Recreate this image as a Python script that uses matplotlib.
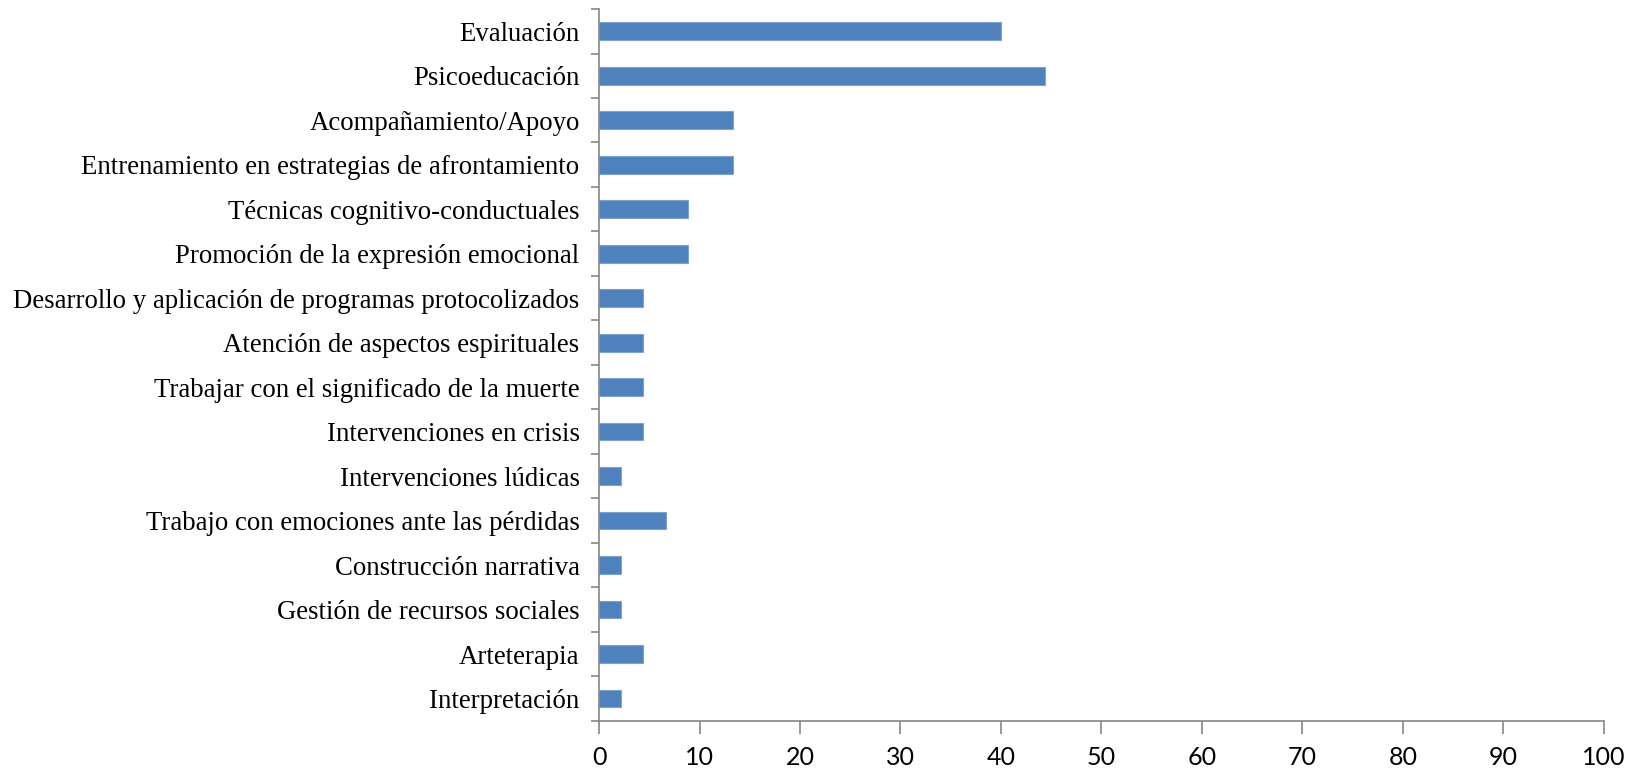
import matplotlib
matplotlib.use("Agg")
import matplotlib.pyplot as plt
import numpy as np

categories = [
    "Evaluación",
    "Psicoeducación",
    "Acompañamiento/Apoyo",
    "Entrenamiento en estrategias de afrontamiento",
    "Técnicas cognitivo-conductuales",
    "Promoción de la expresión emocional",
    "Desarrollo y aplicación de programas protocolizados",
    "Atención de aspectos espirituales",
    "Trabajar con el significado de la muerte",
    "Intervenciones en crisis",
    "Intervenciones lúdicas",
    "Trabajo con emociones ante las pérdidas",
    "Construcción narrativa",
    "Gestión de recursos sociales",
    "Arteterapia",
    "Interpretación",
]
values = [40.0, 44.4, 13.3, 13.3, 8.9, 8.9, 4.4, 4.4, 4.4, 4.4, 2.2, 6.7, 2.2, 2.2, 4.4, 2.2]
x_ticks = list(range(0, 101, 10))

axis_color = "#868686"

fig = plt.figure(figsize=(16.35, 7.71), dpi=100)
ax = fig.add_axes([0.3664, 0.0652, 0.9809 - 0.3664, 0.9883 - 0.0652])

y = np.arange(len(categories))
ax.barh(y, values, height=0.4, color="#4F81BD", edgecolor="#7EA3D0", linewidth=0.8)

ax.set_xlim(0, 100)
ax.set_ylim(len(categories) - 0.5, -0.5)

ax.set_xticks(x_ticks)
ax.set_xticklabels([str(t) for t in x_ticks], family="Lato", fontsize=18)
ax.set_yticks(y)
ax.set_yticklabels(categories, family="Liberation Serif", fontsize=19.3)
ax.set_yticks(np.arange(-0.5, len(categories)), minor=True)

ax.tick_params(axis="y", which="major", length=0, pad=14)
ax.tick_params(axis="y", which="minor", length=6, width=1.2, color=axis_color)
ax.tick_params(axis="x", length=9, width=1.2, color=axis_color, pad=9)

for side in ["top", "right"]:
    ax.spines[side].set_visible(False)
for side in ["left", "bottom"]:
    ax.spines[side].set_color(axis_color)
    ax.spines[side].set_linewidth(1.2)

fig.savefig("out.png", dpi=100)
